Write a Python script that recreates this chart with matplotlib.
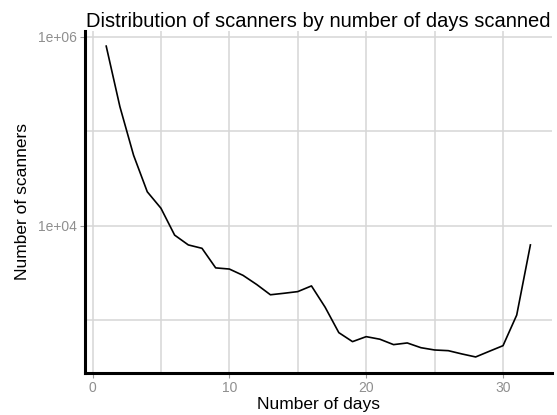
import matplotlib
matplotlib.use("Agg")
import matplotlib.pyplot as plt
from matplotlib.ticker import FixedLocator, FixedFormatter, NullFormatter

plt.rcParams['font.family'] = ['Liberation Sans', 'DejaVu Sans']

# Number of distinct days each scanner was observed, and how many scanners
days = list(range(1, 33))
scanners = [800000, 183000, 56000, 23000, 15400, 8000, 6300, 5800, 3600, 3500,
            3000, 2400, 1870, 1940, 2020, 2320, 1380, 743, 597, 674,
            633, 555, 578, 515, 487, 479, 442, 411, 472, 541,
            1140, 6300]

x_major = [0, 10, 20, 30]
x_minor = [5, 15, 25]
y_major = [1e4, 1e6]
y_major_labels = ["1e+04", "1e+06"]
y_minor = [1e3, 1e5]

fig = plt.figure(figsize=(5.57, 4.15), dpi=100)
ax = fig.add_axes([85 / 557, 1 - 373 / 415, (551.6 - 85) / 557, (373 - 31) / 415])

ax.plot(days, scanners, color="black", linewidth=1.2, zorder=3)

ax.set_yscale("log")
ax.set_xlim(-0.55, 33.55)
ax.set_ylim(10 ** 2.444, 10 ** 6.063)

ax.xaxis.set_major_locator(FixedLocator(x_major))
ax.xaxis.set_minor_locator(FixedLocator(x_minor))
ax.yaxis.set_major_locator(FixedLocator(y_major))
ax.yaxis.set_major_formatter(FixedFormatter(y_major_labels))
ax.yaxis.set_minor_locator(FixedLocator(y_minor))
ax.yaxis.set_minor_formatter(NullFormatter())

grid_col = "#d6d6d6"
ax.grid(which="major", color=grid_col, linewidth=1.1, zorder=0)
ax.grid(which="minor", color=grid_col, linewidth=1.1, zorder=0)
ax.set_axisbelow(True)

for side in ("top", "right"):
    ax.spines[side].set_visible(False)
for side in ("left", "bottom"):
    ax.spines[side].set_color("black")
    ax.spines[side].set_linewidth(2.2)

ax.tick_params(which="major", length=3.5, width=0.8, color="#9a9a9a",
               labelcolor="#8f8f8f", labelsize=10, pad=2)
ax.tick_params(which="minor", length=0)

ax.set_xlabel("Number of days", fontsize=12.5, color="black", labelpad=2)
ax.set_ylabel("Number of scanners", fontsize=12.5, color="black", labelpad=6)
ax.set_title("Distribution of scanners by number of days scanned",
             fontsize=14.5, color="black", loc="left", pad=3, x=0.003)

fig.savefig("out.png", dpi=100)
